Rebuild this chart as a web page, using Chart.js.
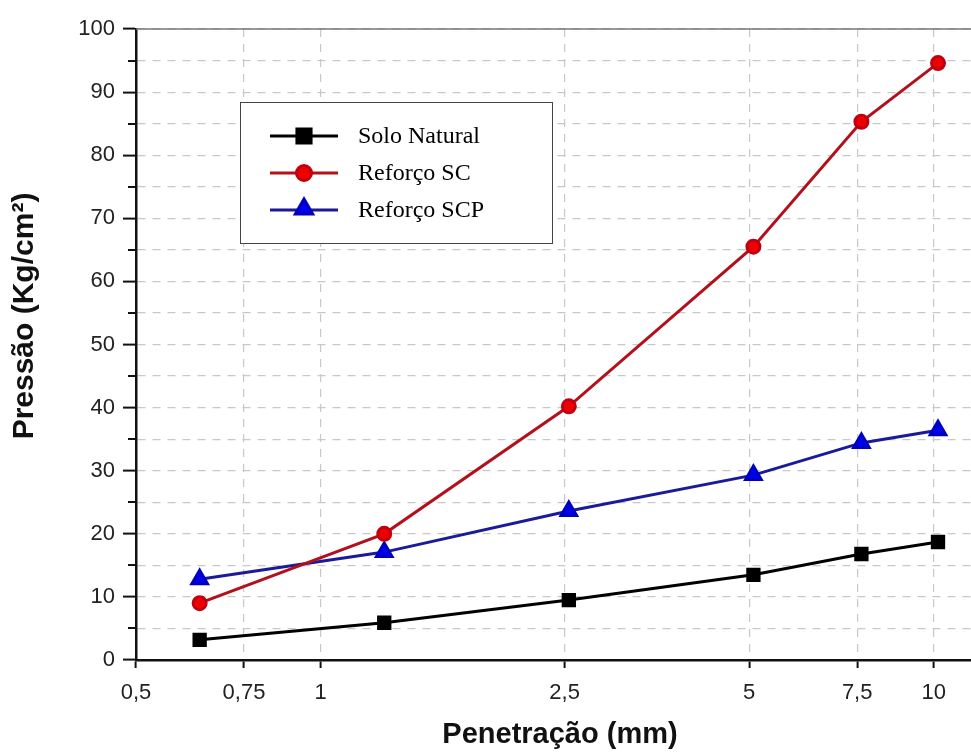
<html lang="pt">
<head>
<meta charset="UTF-8">
<title>Pressão x Penetração</title>
<script src="https://cdn.jsdelivr.net/npm/chart.js@4.4.0/dist/chart.umd.min.js"></script>
<style>
  body { margin: 0; background: #fff; overflow: hidden; }
  #fora { width: 971px; height: 752px; overflow: hidden; position: relative; }
  /* um pouco mais largo: o espaco do ultimo rotulo fica fora da janela */
  #wrap { width: 983px; height: 752px; position: relative; }
</style>
</head>
<body>
<div id="fora"><div id="wrap"><canvas id="grafico"></canvas></div></div>
<script>
// penetracoes do ensaio (mm)
var penetracao = [0.635, 1.27, 2.54, 5.08, 7.62, 10.16];
var soloNatural = [3.2, 5.9, 9.5, 13.5, 16.8, 18.7];
var reforcoSC = [9.0, 20.0, 40.2, 65.5, 85.3, 94.6];
var reforcoSCP = [12.8, 17.1, 23.6, 29.3, 34.4, 36.4];
var xTicks = [0.5, 0.75, 1, 2.5, 5, 7.5, 10];
var tituloX = 'Penetração (mm)';
var tituloY = 'Pressão (Kg/cm²)';

function pontos(valores) {
    return penetracao.map(function (x, i) { return {x: x, y: valores[i]}; });
}

// legenda + titulos + moldura + ticks menores do eixo y
var legendaBox = {
    id: 'legendaBox',
    afterDraw: function (chart) {
        var ctx = chart.ctx;
        var area = chart.chartArea;
        var ys = chart.scales.y;
        ctx.save();
        // ticks menores (5, 15, ...)
        ctx.strokeStyle = '#111';
        ctx.lineWidth = 2;
        for (var v = 5; v < 100; v += 10) {
            var py = Math.round(ys.getPixelForValue(v));
            ctx.beginPath();
            ctx.moveTo(area.left - 8, py);
            ctx.lineTo(area.left, py);
            ctx.stroke();
        }
        // moldura de cima
        ctx.strokeStyle = '#777';
        ctx.lineWidth = 1.5;
        ctx.beginPath();
        ctx.moveTo(area.left, area.top);
        ctx.lineTo(area.right, area.top);
        ctx.stroke();

        // titulos dos eixos
        ctx.fillStyle = '#111';
        ctx.textAlign = 'center';
        ctx.textBaseline = 'middle';
        ctx.font = 'bold 29px Arial, "Liberation Sans"';
        ctx.fillText(tituloX, 560, 735);
        ctx.save();
        ctx.translate(25, 316);
        ctx.rotate(-Math.PI / 2);
        ctx.font = 'bold 30px Arial, "Liberation Sans"';
        ctx.fillText(tituloY, 0, 0);
        ctx.restore();

        // legenda
        ctx.textAlign = 'left';
        ctx.fillStyle = '#fff';
        ctx.fillRect(240, 102, 312, 141);
        ctx.strokeStyle = '#444';
        ctx.lineWidth = 1;
        ctx.strokeRect(240.5, 102.5, 312, 141);
        var linhas = [136, 173, 210];
        chart.data.datasets.forEach(function (ds, i) {
            var y = linhas[i];
            ctx.strokeStyle = ds.borderColor;
            ctx.lineWidth = 3;
            ctx.beginPath();
            ctx.moveTo(270, y);
            ctx.lineTo(338, y);
            ctx.stroke();
            ctx.fillStyle = ds.pointBackgroundColor;
            ctx.strokeStyle = ds.pointBorderColor;
            Chart.helpers.drawPoint(ctx, {
                pointStyle: ds.pointStyle,
                radius: ds.legendRadius,
                borderWidth: 1
            }, 304, ds.pointStyle === 'triangle' ? y - 1 : y);
            ctx.fillStyle = '#000';
            ctx.font = '24px "Liberation Serif", "Times New Roman", serif';
            ctx.textBaseline = 'middle';
            ctx.fillText(ds.label, 358, y + 1);
        });
        ctx.restore();
    }
};

var fonteEixo = { family: 'Arial, "Liberation Sans"', size: 22 };

var ctx = document.getElementById('grafico');
new Chart(ctx, {
    type: 'line',
    data: {
        datasets: [
            {
                label: 'Solo Natural',
                data: pontos(soloNatural),
                borderColor: '#000',
                backgroundColor: '#000',
                pointBackgroundColor: '#000',
                pointBorderColor: '#000',
                pointStyle: 'rect',
                pointRadius: 8,
                legendRadius: 10,
                borderWidth: 3
            },
            {
                label: 'Reforço SC',
                data: pontos(reforcoSC),
                borderColor: '#b3101c',
                backgroundColor: '#e60000',
                pointBackgroundColor: '#ee0000',
                pointBorderColor: '#c00010',
                pointStyle: 'circle',
                pointRadius: 6.5,
                legendRadius: 7.5,
                borderWidth: 3
            },
            {
                label: 'Reforço SCP',
                data: pontos(reforcoSCP),
                borderColor: '#1a1a9a',
                backgroundColor: '#0000ee',
                pointBackgroundColor: '#0000f0',
                pointBorderColor: '#0000c0',
                pointStyle: 'triangle',
                pointRadius: 9,
                legendRadius: 10,
                borderWidth: 3
            }
        ]
    },
    options: {
        responsive: true,
        maintainAspectRatio: false,
        animation: false,
        layout: { padding: { top: 29, right: 0, left: 0, bottom: 0 } },
        plugins: {
            legend: { display: false },
            tooltip: { enabled: false }
        },
        scales: {
            x: {
                type: 'logarithmic',
                min: 0.5,
                max: 11.5,
                afterBuildTicks: function (axis) {
                    axis.ticks = xTicks.map(function (v) { return {value: v}; });
                },
                afterFit: function (axis) {
                    axis.height = 92;
                },
                ticks: {
                    autoSkip: false,
                    maxRotation: 0,
                    padding: 12,
                    color: '#222',
                    font: fonteEixo,
                    callback: function (v) { return String(v).replace('.', ','); }
                },
                grid: {
                    color: '#c8c8c8',
                    lineWidth: 1.2,
                    tickColor: '#111',
                    tickLength: 8,
                    tickWidth: 2,
                    tickBorderDash: []
                },
                border: { color: '#111', width: 2.5, dash: [8, 7] }
            },
            y: {
                min: 0,
                max: 100,
                afterFit: function (axis) {
                    axis.width = 136;
                },
                ticks: {
                    stepSize: 5,
                    padding: 8,
                    color: '#222',
                    font: fonteEixo,
                    callback: function (v) { return v % 10 === 0 ? v : ''; }
                },
                grid: {
                    color: '#c8c8c8',
                    lineWidth: 1.2,
                    tickColor: function (c) {
                        return c.tick && c.tick.value % 10 === 0 ? '#111' : 'rgba(0,0,0,0)';
                    },
                    tickLength: 13,
                    tickWidth: 2,
                    tickBorderDash: []
                },
                border: { color: '#111', width: 2.5, dash: [8, 7] }
            }
        }
    },
    plugins: [legendaBox]
});
</script>
</body>
</html>
